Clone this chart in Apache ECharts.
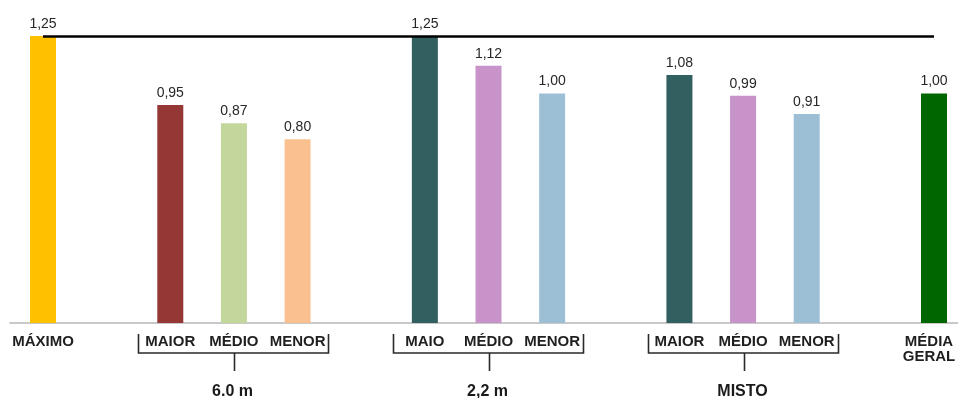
<!DOCTYPE html>
<html>
<head>
<meta charset="utf-8">
<script src="https://cdn.jsdelivr.net/npm/echarts@6/dist/echarts.min.js"></script>
<style>
  html, body { margin: 0; padding: 0; background: #ffffff; }
  #chart { width: 958px; height: 398px; }
</style>
</head>
<body>
<div id="chart"></div>
<script>
// Category slots along the axis; empty strings are the gaps between groups
const categories = ['MÁXIMO', '', 'MAIOR', 'MÉDIO', 'MENOR', '', 'MAIO', 'MÉDIO', 'MENOR', '', 'MAIOR', 'MÉDIO', 'MENOR', '', 'MÉDIA\nGERAL'];
const values = [1.25, '-', 0.95, 0.87, 0.80, '-', 1.25, 1.12, 1.00, '-', 1.08, 0.99, 0.91, '-', 1.00];
const barColors = ['#FFC000', null, '#953735', '#C3D69B', '#FAC090', null, '#325F60', '#C893C9', '#9DBFD6', null, '#325F60', '#C893C9', '#9DBFD6', null, '#006600'];

// Groups under brackets: first and last slot index of each group
const groupNames = ['6.0 m', '2,2 m', 'MISTO'];
const groupStart = [2, 6, 10];
const groupEnd = [4, 8, 12];

// Reference level drawn as a horizontal line
const maxLevel = 1.25;

const chart = echarts.init(document.getElementById('chart'), null, { renderer: 'canvas' });

const barData = values.map((v, i) => ({
  value: v,
  itemStyle: { color: barColors[i] || '#ffffff' }
}));

// the last, two-line label sits a little left so it stays inside the canvas
const axisData = categories.map((c, i) =>
  i === categories.length - 1 ? { value: c, textStyle: { padding: [0, 10, 0, 0] } } : c
);

const groupData = groupNames.map((n, i) => [groupStart[i], 0, groupEnd[i]]);

function renderBracket(params, api) {
  const s = api.coord([api.value(0), 0]);
  const e = api.coord([api.value(2), 0]);
  const step = api.coord([1, 0])[0] - api.coord([0, 0])[0];
  const half = step / 2;
  const x0 = Math.round(s[0] - half) + 0.5;
  const x1 = Math.round(e[0] + half) - 0.5;
  const yb = s[1];
  const mid = Math.round((x0 + x1) / 2) + 0.5;
  const stroke = { stroke: '#2a2a2a', lineWidth: 1.6, fill: null };
  return {
    type: 'group',
    children: [
      {
        type: 'polyline',
        shape: { points: [[x0, yb + 11], [x0, yb + 30], [x1, yb + 30], [x1, yb + 11]] },
        style: stroke
      },
      {
        type: 'line',
        shape: { x1: mid, y1: yb + 30, x2: mid, y2: yb + 48 },
        style: stroke
      },
      {
        type: 'text',
        style: {
          text: groupNames[params.dataIndex],
          x: mid - 2,
          y: yb + 69,
          align: 'center',
          verticalAlign: 'middle',
          font: 'bold 16px "Liberation Sans", Arial, sans-serif',
          fill: '#1a1a1a'
        }
      }
    ]
  };
}

chart.setOption({
  animation: false,
  backgroundColor: '#ffffff',
  grid: [
    { left: 43, right: 24, top: 36, bottom: 75, outerBoundsMode: 'none', containLabel: false },
    { left: 10, right: 0, top: 36, bottom: 75, outerBoundsMode: 'none', containLabel: false }
  ],
  xAxis: [
    {
      type: 'category',
      gridIndex: 0,
      data: axisData,
      boundaryGap: false,
      axisLine: { show: false },
      axisTick: { show: false },
      splitLine: { show: false },
      axisLabel: {
        interval: 0,
        margin: 11,
        color: '#1f1f1f',
        fontWeight: 'bold',
        fontSize: 15,
        lineHeight: 15,
        fontFamily: '"Liberation Sans", Arial, sans-serif'
      }
    },
    {
      type: 'value',
      gridIndex: 1,
      min: 0,
      max: 1,
      axisLine: { show: true, lineStyle: { color: '#b8b8b8', width: 1.5 } },
      axisTick: { show: false },
      axisLabel: { show: false },
      splitLine: { show: false }
    }
  ],
  yAxis: [
    { type: 'value', gridIndex: 0, min: 0, max: maxLevel, show: false },
    { type: 'value', gridIndex: 1, min: 0, max: 1, show: false }
  ],
  series: [
    {
      type: 'bar',
      xAxisIndex: 0,
      yAxisIndex: 0,
      data: barData,
      barWidth: 26,
      clip: false,
      z: 2,
      label: {
        show: true,
        position: 'top',
        distance: 5,
        color: '#262626',
        fontSize: 14,
        fontFamily: '"Liberation Sans", Arial, sans-serif',
        formatter: p => (typeof p.value === 'number' ? p.value.toFixed(2).replace('.', ',') : '')
      },
      markLine: {
        silent: true,
        symbol: ['none', 'none'],
        label: { show: false },
        z: 5,
        lineStyle: { color: '#000000', width: 2.5, type: 'solid' },
        data: [{ yAxis: maxLevel }]
      }
    },
    {
      type: 'custom',
      xAxisIndex: 0,
      yAxisIndex: 0,
      data: groupData,
      encode: { x: 0, y: 1 },
      clip: false,
      silent: true,
      renderItem: renderBracket
    }
  ]
});
</script>
</body>
</html>
